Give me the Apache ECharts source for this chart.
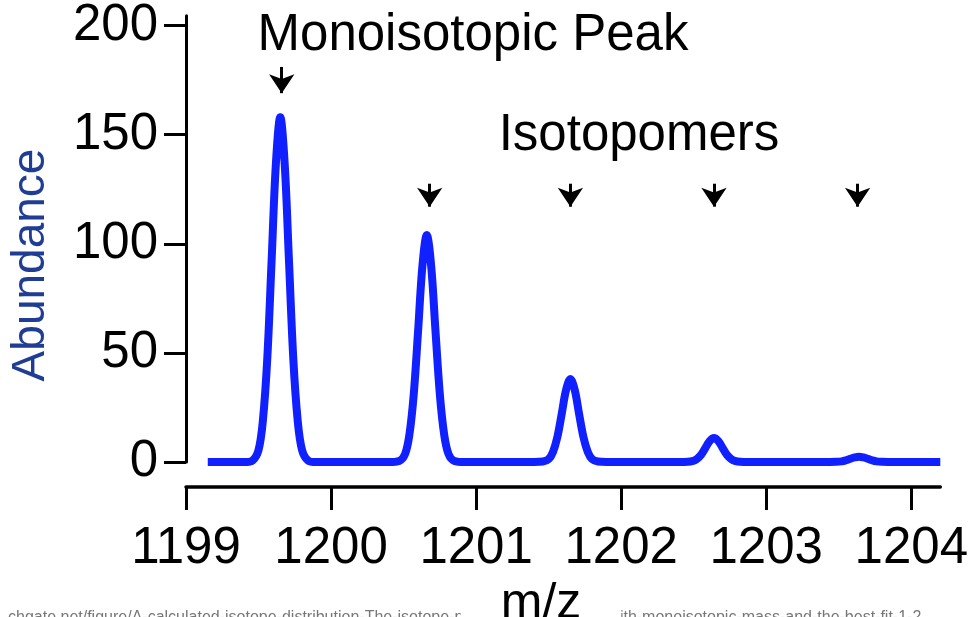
<!DOCTYPE html>
<html>
<head>
	<meta charset="utf-8" />
	<script src="https://cdn.jsdelivr.net/npm/echarts@6/dist/echarts.min.js"></script>
	<style>
		html, body { margin: 0; padding: 0; background: #fff; }
	</style>
</head>
<body>
	<div id="main" style="width: 971px;height:617px;"></div>

	<script type="text/javascript">
		// m/z values of the spectrum trace
		var mz = [
			1199.15, 1199.40, 1199.46, 1199.50, 1199.53, 1199.56, 1199.59, 1199.62, 1199.65, 1199.68, 1199.71, 1199.74, 1199.77, 1199.80, 1199.84, 1199.90,
			1200.40, 1200.47, 1200.51, 1200.54, 1200.57, 1200.60, 1200.63, 1200.66, 1200.69, 1200.72, 1200.75, 1200.78, 1200.81, 1200.85, 1200.92,
			1201.40, 1201.46, 1201.50, 1201.53, 1201.56, 1201.59, 1201.62, 1201.65, 1201.68, 1201.71, 1201.74, 1201.77, 1201.80, 1201.84, 1201.90,
			1202.40, 1202.46, 1202.49, 1202.52, 1202.55, 1202.58, 1202.61, 1202.64, 1202.67, 1202.70, 1202.73, 1202.76, 1202.79, 1202.82, 1202.88,
			1203.40, 1203.48, 1203.52, 1203.55, 1203.58, 1203.61, 1203.64, 1203.67, 1203.70, 1203.73, 1203.76, 1203.80, 1203.88,
			1204.20
		];
		// abundance at each m/z point
		var abundance = [
			0, 0, 0.8, 5.5, 19, 47, 92, 137, 158, 137, 92, 47, 19, 5.5, 0.8, 0,
			0, 0.5, 3.6, 12.5, 31, 60, 90, 104, 90, 60, 31, 12.5, 3.6, 0.5, 0,
			0, 0.2, 1.3, 4.6, 11.4, 22, 33, 38, 33, 22, 11.4, 4.6, 1.3, 0.2, 0,
			0, 0.1, 0.4, 1.3, 3.2, 6.4, 9.6, 11, 9.6, 6.4, 3.2, 1.3, 0.4, 0.1, 0,
			0, 0.1, 0.3, 0.8, 1.5, 2.1, 2.4, 2.1, 1.5, 0.8, 0.3, 0.1, 0,
			0
		];

		// tick labels
		var xTicks = [1199, 1200, 1201, 1202, 1203, 1204];
		var yTicks = [0, 50, 100, 150, 200];

		// annotation arrows: x position, top and tip (in abundance units)
		var arrowX = [1199.66, 1200.68, 1201.65, 1202.64, 1203.63];
		var arrowTop = [181, 127.5, 127.5, 127.5, 127.5];
		var arrowTip = [169, 117, 117, 117, 117];

		var FONT = 'Liberation Sans, Arial, Helvetica, sans-serif';

		var myChart = echarts.init(document.getElementById('main'));

		var arrows = arrowX.map(function (x, i) {
			return [{ coord: [x, arrowTop[i]] }, { coord: [x, arrowTip[i]] }];
		});

		var option = {
			animation: false,
			backgroundColor: '#fff',
			grid: { left: 186, right: 28, top: 13, bottom: 155, containLabel: false },
			xAxis: {
				type: 'value',
				min: 1199,
				max: 1204.2,
				splitLine: { show: false },
				axisLine: { onZero: false, lineStyle: { color: '#000', width: 3.5 } },
				offset: 25,
				axisTick: { show: true, length: 23, lineStyle: { color: '#000', width: 3 }, customValues: xTicks },
				axisLabel: {
					color: '#000', fontSize: 51, fontFamily: FONT, margin: 36, customValues: xTicks,
					formatter: function (v) { return String(v); }
				}
			},
			yAxis: {
				type: 'value',
				min: 0,
				max: 204.5,
				splitLine: { show: false },
				axisLine: { show: true, lineStyle: { color: '#000', width: 3 } },
				axisTick: { show: true, length: 22, lineStyle: { color: '#000', width: 3 }, customValues: yTicks },
				axisLabel: {
					color: '#000', fontSize: 51, fontFamily: FONT, margin: 28, customValues: yTicks,
					padding: [16, 0, 0, 0]
				}
			},
			series: [
				{
					type: 'line',
					data: mz.map(function (v, i) { return [v, abundance[i]]; }),
					showSymbol: false,
					smooth: 0.35,
					lineStyle: { color: '#1020ff', width: 8 },
					silent: true,
					markLine: {
						silent: true,
						symbol: ['none', 'arrow'],
						symbolSize: [19, 19],
						label: { show: false },
						lineStyle: { color: '#000', width: 3, type: 'solid' },
						data: arrows
					}
				}
			],
			graphic: [
				{
					type: 'text', x: 473, y: 36,
					style: { text: 'Monoisotopic Peak', font: '51px ' + FONT, fill: '#000', align: 'center', verticalAlign: 'middle' }
				},
				{
					type: 'text', x: 639, y: 136,
					style: { text: 'Isotopomers', font: '51px ' + FONT, fill: '#000', align: 'center', verticalAlign: 'middle' }
				},
				{
					type: 'text', x: 31, y: 265, rotation: Math.PI / 2,
					style: { text: 'Abundance', font: '46px ' + FONT, fill: '#1f3e93', align: 'center', verticalAlign: 'middle' }
				},
				{
					type: 'text', x: 8, y: 610,
					style: { text: 'chgate.net/figure/A-calculated-isotope-distribution-The-isotope-patterns-of-a-peptide-with-monoisotopic-mass-and-the-best-fit-1-2', font: '16px ' + FONT, fill: '#777', align: 'left', verticalAlign: 'top' }
				},
				{
					type: 'text', x: 541, y: 604,
					style: { text: 'm/z', font: '50px ' + FONT, fill: '#000', align: 'center', verticalAlign: 'middle', backgroundColor: '#fff', padding: [0, 40, 0, 40] }
				}
			]
		};

		myChart.setOption(option);
	</script>
</body>
</html>
